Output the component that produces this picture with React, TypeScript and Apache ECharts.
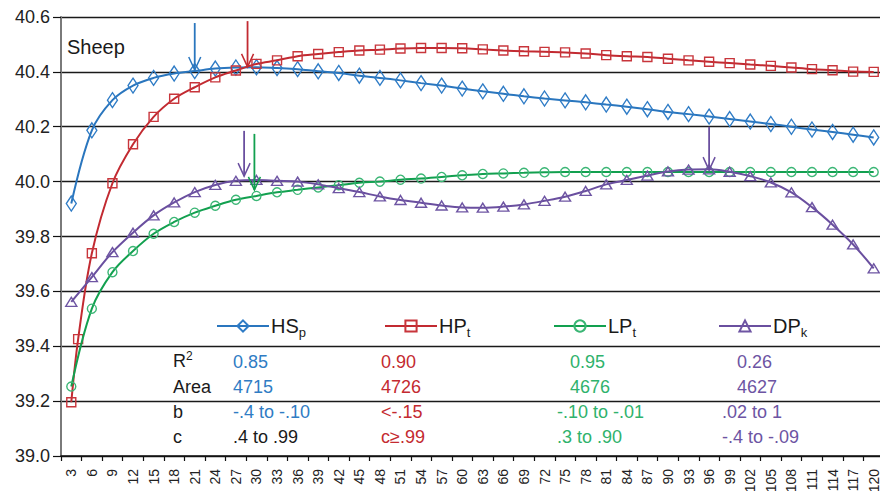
import React, { useEffect, useRef } from 'react';
import * as echarts from 'echarts';

// ---------- data ----------
const xCategories = ['3','6','9','12','15','18','21','24','27','30','33','36','39','42','45','48','51','54','57','60','63','66','69','72','75','78','81','84','87','90','93','96','99','102','105','108','111','114','117','120'];
const xValues = [3,6,9,12,15,18,21,24,27,30,33,36,39,42,45,48,51,54,57,60,63,66,69,72,75,78,81,84,87,90,93,96,99,102,105,108,111,114,117,120];

const hspValues = [39.92,40.187,40.297,40.35,40.378,40.394,40.403,40.412,40.416,40.417,40.414,40.41,40.402,40.396,40.386,40.378,40.369,40.359,40.35,40.339,40.329,40.32,40.311,40.303,40.296,40.289,40.281,40.273,40.264,40.254,40.246,40.237,40.228,40.219,40.21,40.2,40.19,40.181,40.171,40.161];

const hptX = [3,4,6,9,12,15,18,21,24,27,30,33,36,39,42,45,48,51,54,57,60,63,66,69,72,75,78,81,84,87,90,93,96,99,102,105,108,111,114,117,120];
const hptValues = [39.196,39.426,39.739,39.994,40.136,40.236,40.302,40.344,40.38,40.405,40.429,40.442,40.457,40.465,40.472,40.478,40.481,40.485,40.487,40.487,40.486,40.482,40.478,40.475,40.473,40.471,40.467,40.461,40.457,40.454,40.448,40.442,40.437,40.432,40.427,40.422,40.416,40.41,40.406,40.401,40.4];

const lptValues = [39.253,39.537,39.67,39.747,39.81,39.853,39.887,39.912,39.934,39.948,39.961,39.97,39.979,39.987,39.996,40.0,40.007,40.011,40.017,40.023,40.028,40.03,40.032,40.034,40.035,40.035,40.035,40.035,40.035,40.035,40.035,40.035,40.035,40.035,40.035,40.035,40.035,40.035,40.035,40.035];

const dpkValues = [39.562,39.652,39.743,39.814,39.877,39.924,39.962,39.988,40.003,40.006,40.003,40.0,39.99,39.976,39.962,39.946,39.933,39.923,39.913,39.906,39.905,39.909,39.917,39.93,39.945,39.966,39.99,40.006,40.022,40.037,40.044,40.045,40.036,40.02,39.997,39.961,39.907,39.843,39.771,39.684];

const seriesNames = ['HSp', 'HPt', 'LPt', 'DPk'];

// arrows: [x, yStart, yTip, seriesIndex]
const arrows = [
  [21, 40.578, 40.407, 0],
  [28.7, 40.585, 40.418, 1],
  [28.2, 40.185, 40.02, 3],
  [29.7, 40.174, 39.97, 2],
  [96, 40.2, 40.042, 3],
];

const yTicks = { min: 39.0, max: 40.6, step: 0.2 };

const tableRowLabels = ['R', 'Area', 'b', 'c'];
const r2Values = ['0.85', '0.90', '0.95', '0.26'];
const areaValues = ['4715', '4726', '4676', '4627'];
const bRanges = ['-.4 to -.10', '<-.15', '-.10 to -.01', '.02 to 1'];
const cRanges = ['.4 to .99', 'c\u2265.99', '.3 to .90', '-.4 to -.09'];

// ---------- style ----------
const FONT = 'Liberation Sans, Arial, Helvetica, sans-serif';
const LINE_COLORS = ['#2a76be', '#c22a31', '#12a04f', '#6a4f9f'];
const MARK_COLORS = ['#2f7cc6', '#c8353b', '#3bb675', '#6e55a3'];
const TEXT_COLORS = ['#2f7cc4', '#c42a30', '#2fb26c', '#6d54a3'];
const SYMBOLS = ['diamond', 'rect', 'circle', 'triangle'];
const SYMBOL_SIZES: any[] = [[10, 15], [9, 9], [9, 9], [11, 9]];

export default function App() {
  const ref = useRef<HTMLDivElement>(null);

  useEffect(() => {
    document.body.style.margin = '0';
    const chart = echarts.init(ref.current!, null, { renderer: 'svg' });

    const seriesData = [
      xValues.map((x, i) => [x, hspValues[i]]),
      hptX.map((x, i) => [x, hptValues[i]]),
      xValues.map((x, i) => [x, lptValues[i]]),
      xValues.map((x, i) => [x, dpkValues[i]]),
    ];

    const lineSeries = seriesNames.map((name, k) => ({
      type: 'line',
      name,
      xAxisIndex: 0,
      yAxisIndex: 0,
      data: seriesData[k],
      smooth: 0.35,
      symbol: SYMBOLS[k],
      symbolSize: SYMBOL_SIZES[k],
      showAllSymbol: true,
      lineStyle: { color: LINE_COLORS[k], width: 2 },
      itemStyle: { color: 'rgba(255,255,255,0)', borderColor: MARK_COLORS[k], borderWidth: 1.4 },
      emphasis: { disabled: true },
      z: 3 + k,
    }));

    const arrowSeries = {
      type: 'custom',
      xAxisIndex: 0,
      yAxisIndex: 0,
      clip: false,
      z: 10,
      data: arrows,
      renderItem: (params: any, api: any) => {
        const x = api.value(0);
        const p1 = api.coord([x, api.value(1)]);
        const p2 = api.coord([x, api.value(2)]);
        const c = LINE_COLORS[api.value(3)];
        return {
          type: 'group',
          children: [
            { type: 'line', shape: { x1: p1[0], y1: p1[1], x2: p2[0], y2: p2[1] }, style: { stroke: c, lineWidth: 1.8 } },
            {
              type: 'polyline',
              shape: { points: [[p2[0] - 6, p2[1] - 13], [p2[0], p2[1]], [p2[0] + 6, p2[1] - 13]] },
              style: { stroke: c, fill: 'none', lineWidth: 1.5 },
            },
          ],
        };
      },
    };

    const legendLefts = [216, 384, 553, 718];
    const legends = seriesNames.map((n, k) => ({
      data: [n],
      left: legendLefts[k],
      top: 316,
      itemWidth: 52,
      itemHeight: 14,
      itemGap: 0,
      padding: 0,
      selectedMode: false,
      formatter: (name: string) => `{m|${name.slice(0, -1)}}{s|${name.slice(-1)}}`,
      textStyle: {
        color: '#1a1a1a',
        padding: [0, 0, 0, -3],
        rich: {
          m: { fontSize: 20, fontFamily: FONT, color: '#1a1a1a', lineHeight: 30 },
          s: { fontSize: 13, fontFamily: FONT, color: '#1a1a1a', verticalAlign: 'bottom', lineHeight: 13, padding: [0, 0, 2, 0] },
        },
      },
    }));

    // table texts
    const rowBaselines = [368, 393, 418, 443];
    const colA = [233, 381, 570, 737];
    const colB = [233, 381, 557, 722];
    const graphics: any[] = [
      { type: 'text', left: 67, top: 37, style: { text: 'Sheep', font: `20px ${FONT}`, fill: '#1a1a1a' } },
      {
        type: 'text', x: 173, y: rowBaselines[0] - 7,
        style: {
          text: `{m|${tableRowLabels[0]}}{p|2}`, fill: '#1a1a1a', verticalAlign: 'middle',
          rich: { m: { fontSize: 18, fontFamily: FONT, lineHeight: 22 }, p: { fontSize: 12, fontFamily: FONT, verticalAlign: 'top', lineHeight: 12 } },
        },
      },
    ];
    for (let r = 1; r < 4; r++) {
      graphics.push({ type: 'text', x: 173, y: rowBaselines[r] - 6, style: { text: tableRowLabels[r], font: `18px ${FONT}`, fill: '#1a1a1a', verticalAlign: 'middle' } });
    }
    const rows = [r2Values, areaValues, bRanges, cRanges];
    rows.forEach((row, r) => {
      row.forEach((txt, k) => {
        const color = r === 3 && k === 0 ? '#1a1a1a' : TEXT_COLORS[k];
        graphics.push({
          type: 'text',
          x: r < 2 ? colA[k] : colB[k],
          y: rowBaselines[r] - 6,
          style: { text: txt, font: `18px ${FONT}`, fill: color, verticalAlign: 'middle' },
        });
      });
    });

    chart.setOption({
      animation: false,
      backgroundColor: '#fff',
      grid: { left: 61, right: -4, top: 17, bottom: 35, containLabel: false, outerBoundsMode: 'none' },
      xAxis: [
        { type: 'value', min: 1.5, max: 121.5, show: false },
        {
          type: 'category',
          data: xCategories,
          boundaryGap: true,
          position: 'bottom',
          axisLine: { show: true, onZero: false, lineStyle: { color: '#111', width: 1.5 } },
          axisTick: { show: true, length: 5, lineStyle: { color: '#111', width: 1.2 } },
          axisLabel: { interval: 0, rotate: 90, margin: 13, fontSize: 14, fontFamily: FONT, color: '#222' },
          splitLine: { show: false },
        },
      ],
      yAxis: {
        type: 'value',
        min: yTicks.min,
        max: yTicks.max,
        interval: yTicks.step,
        axisLine: { show: true, lineStyle: { color: '#7a7a7a', width: 2 } },
        axisTick: { show: true, length: 8, lineStyle: { color: '#111', width: 1.2 } },
        axisLabel: { fontSize: 18, fontFamily: FONT, color: '#222', margin: 11, formatter: (v: number) => v.toFixed(1) },
        splitLine: { show: true, lineStyle: { color: '#1a1a1a', width: 1.3 } },
      },
      legend: legends,
      series: [...lineSeries, arrowSeries],
      graphic: graphics,
    });

    return () => chart.dispose();
  }, []);

  return <div ref={ref} style={{ width: 880, height: 491, position: 'fixed', left: 0, top: 0 }} />;
}
